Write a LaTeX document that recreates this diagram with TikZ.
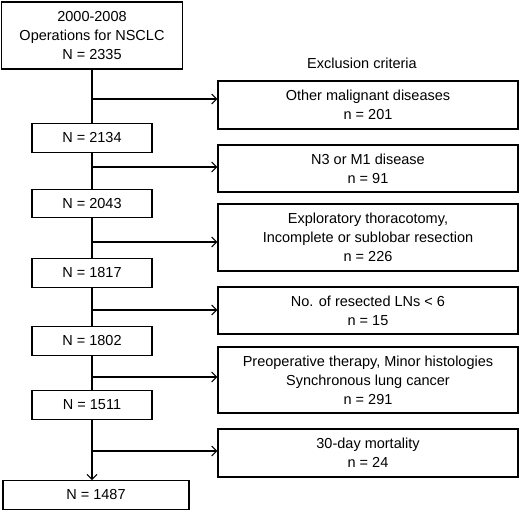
\documentclass[tikz,border=0pt]{standalone}
\usepackage{fontspec}
\setmainfont{Liberation Sans}
\usetikzlibrary{arrows.meta}

\begin{document}
\begin{tikzpicture}[x=1pt, y=-1pt, line width=1.1pt,
    countbox/.style={draw, align=center, inner sep=0pt, minimum width=120pt, minimum height=28.5pt,
        font=\fontsize{14.5}{19}\selectfont},
    exclbox/.style={draw, align=center, inner sep=0pt, minimum width=300pt,
        font=\fontsize{14.5}{19}\selectfont},
    arr/.style={-{Straight Barb[length=5pt, width=10pt, line width=1.1pt]}}]

            \useasboundingbox (0,0) rectangle (520,512);

            \node[countbox, minimum width=181pt, minimum height=67pt] (start) at (92,35.5)
                {2000-2008\\Operations for NSCLC\\N = 2335};
            \node[countbox] (n1) at (92,138) {N = 2134};
            \node[countbox] (n2) at (92,203.5) {N = 2043};
            \node[countbox] (n3) at (92,273) {N = 1817};
            \node[countbox] (n4) at (92,341) {N = 1802};
            \node[countbox] (n5) at (92,405) {N = 1511};
            \node[countbox, minimum width=186pt] (final) at (96,495) {N = 1487};

            \node[font=\fontsize{14.5}{19}\selectfont] (head) at (362,63) {Exclusion criteria};

            \node[exclbox, minimum height=48pt] (e1) at (368,105) {Other malignant diseases\\n = 201};
            \node[exclbox, minimum height=47pt] (e2) at (368,168.5) {N3 or M1 disease\\n = 91};
            \node[exclbox, minimum height=67pt] (e3) at (368,237.5)
                {Exploratory thoracotomy,\\Incomplete or sublobar resection\\n = 226};
            \node[exclbox, minimum height=47pt] (e4) at (368,310.5) {No. of resected LNs < 6\\n = 15};
            \node[exclbox, minimum height=66pt] (e5) at (368,380)
                {Preoperative therapy, Minor histologies\\Synchronous lung cancer\\n = 291};
            \node[exclbox, minimum height=48pt] (e6) at (368,453) {30-day mortality\\n = 24};

            \draw (start) -- (n1);
            \draw (n1) -- (n2);
            \draw (n2) -- (n3);
            \draw (n3) -- (n4);
            \draw (n4) -- (n5);
            \draw[arr] (n5.south) -- (n5.south |- final.north);

            \coordinate (j1) at (92,99);
            \coordinate (j2) at (92,167);
            \coordinate (j3) at (92,242);
            \coordinate (j4) at (92,310);
            \coordinate (j5) at (92,377);
            \coordinate (j6) at (92,451);

            \draw[arr] (j1) -- (j1 -| e1.west);
            \draw[arr] (j2) -- (j2 -| e2.west);
            \draw[arr] (j3) -- (j3 -| e3.west);
            \draw[arr] (j4) -- (j4 -| e4.west);
            \draw[arr] (j5) -- (j5 -| e5.west);
            \draw[arr] (j6) -- (j6 -| e6.west);

        \end{tikzpicture}
\end{document}
